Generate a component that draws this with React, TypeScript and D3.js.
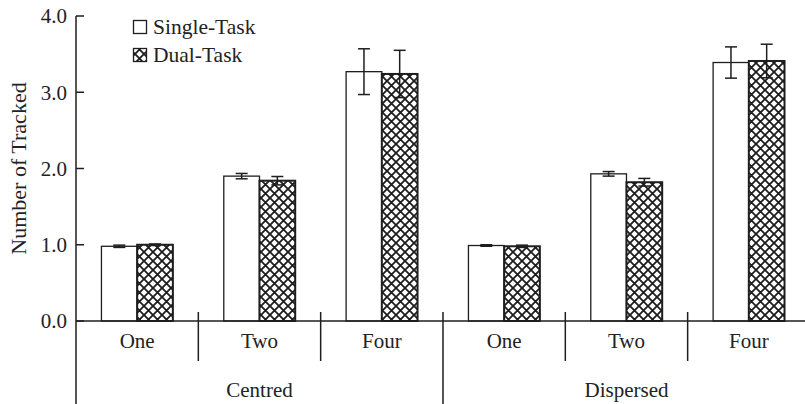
import React from "react";
import * as d3 from "d3";

const groups = ["Centred", "Dispersed"];
const categories = ["One", "Two", "Four"];
const seriesNames = ["Single-Task", "Dual-Task"];
// values per group, per category: [single, dual]
const singleValues = [0.98, 1.9, 3.27, 0.99, 1.93, 3.39];
const singleErrors = [0.015, 0.035, 0.3, 0.01, 0.03, 0.205];
const dualValues = [1.0, 1.84, 3.24, 0.98, 1.82, 3.41];
const dualErrors = [0.01, 0.055, 0.31, 0.015, 0.05, 0.22];
const yTicks = [0, 1, 2, 3, 4];

const W = 805;
const H = 404;
const left = 76;
const slotW = 122.33;
const right = left + slotW * 6;
const yTop = 16;
const yBase = 321;
const FONT = "'Liberation Serif', 'Times New Roman', serif";
const INK = "#1e1e1e";

export default function App() {
  const y = d3.scaleLinear().domain([0, 4]).range([yBase, yTop]);
  const gx = d3.scaleBand<string>().domain(groups).range([left, right]);
  const cx = d3.scaleBand<string>().domain(categories).range([0, gx.bandwidth()]);
  const sx = d3
    .scaleBand<string>()
    .domain(seriesNames)
    .range([0, cx.bandwidth()])
    .paddingInner(0)
    .paddingOuter(0.713);

  const slots: { g: string; c: string; i: number }[] = [];
  groups.forEach((g, gi) =>
    categories.forEach((c, ci) => slots.push({ g, c, i: gi * 3 + ci }))
  );

  const capW = 12;

  return (
    <svg
      width={W}
      height={H}
      style={{ position: "absolute", left: 0, top: 0, background: "#fff" }}
      fontFamily={FONT}
    >
      <defs>
        <pattern id="hatch" patternUnits="userSpaceOnUse" width="9" height="9">
          <rect width="9" height="9" fill="#fff" />
          <path d="M-1,-1 L10,10 M-1,10 L10,-1 M-5.5,3.5 L5.5,14.5 M3.5,-5.5 L14.5,5.5 M3.5,14.5 L14.5,3.5 M-5.5,5.5 L5.5,-5.5" stroke={INK} strokeWidth={1.8} />
        </pattern>
      </defs>

      {/* bars */}
      {slots.map((s) => {
        const x0 = (gx(s.g) as number) + (cx(s.c) as number);
        const bw = sx.bandwidth();
        const xs = x0 + (sx(seriesNames[0]) as number);
        const xd = x0 + (sx(seriesNames[1]) as number);
        const vs = singleValues[s.i];
        const vd = dualValues[s.i];
        const es = singleErrors[s.i];
        const ed = dualErrors[s.i];
        return (
          <g key={s.i}>
            <rect x={xs} y={y(vs)} width={bw} height={yBase - y(vs)} fill="#fff" stroke={INK} strokeWidth={1.3} />
            <rect x={xd} y={y(vd)} width={bw} height={yBase - y(vd)} fill="url(#hatch)" stroke={INK} strokeWidth={2} />
            {[
              [xs + bw / 2, vs, es],
              [xd + bw / 2, vd, ed],
            ].map(([cxp, v, e], k) => (
              <g key={k} stroke={INK} strokeWidth={1.5}>
                <line x1={cxp} x2={cxp} y1={y(v + e)} y2={y(v - e)} />
                <line x1={cxp - capW / 2} x2={cxp + capW / 2} y1={y(v + e)} y2={y(v + e)} />
                <line x1={cxp - capW / 2} x2={cxp + capW / 2} y1={y(v - e)} y2={y(v - e)} />
              </g>
            ))}
          </g>
        );
      })}

      {/* y axis */}
      <line x1={left} x2={left} y1={yTop} y2={H} stroke={INK} strokeWidth={1.5} />
      {yTicks.map((t) => (
        <g key={t}>
          <line x1={left} x2={left + 8} y1={y(t)} y2={y(t)} stroke={INK} strokeWidth={1.5} />
          <text x={left - 9} y={y(t)} dy="0.35em" textAnchor="end" fontSize={21} fill="#222">
            {t.toFixed(1)}
          </text>
        </g>
      ))}
      <text
        transform={`translate(26, ${(73 + 264) / 2}) rotate(-90)`}
        textAnchor="middle"
        fontSize={22}
        fill="#222"
      >
        Number of Tracked
      </text>

      {/* baseline */}
      <line x1={left} x2={W} y1={yBase} y2={yBase} stroke={INK} strokeWidth={1.5} />

      {/* category separators and labels */}
      {slots.map((s) => {
        const x0 = (gx(s.g) as number) + (cx(s.c) as number);
        const isGroupStart = categories.indexOf(s.c) === 0;
        return (
          <g key={"c" + s.i}>
            {!isGroupStart && (
              <line x1={x0} x2={x0} y1={312} y2={361} stroke={INK} strokeWidth={1.5} />
            )}
            {isGroupStart && s.i > 0 && (
              <line x1={x0} x2={x0} y1={312} y2={H} stroke={INK} strokeWidth={1.5} />
            )}
            <text x={x0 + cx.bandwidth() / 2} y={348} textAnchor="middle" fontSize={21} fill="#222">
              {s.c}
            </text>
          </g>
        );
      })}
      {groups.map((g) => (
        <text key={g} x={(gx(g) as number) + gx.bandwidth() / 2} y={397} textAnchor="middle" fontSize={21} fill="#222">
          {g}
        </text>
      ))}

      {/* legend */}
      <rect x={133.5} y={20.5} width={13} height={13} fill="#fff" stroke={INK} strokeWidth={1.3} />
      <text x={153} y={34} fontSize={21.5} fill="#222">{seriesNames[0]}</text>
      <rect x={133.5} y={48.5} width={13} height={13} fill="url(#hatch)" stroke={INK} strokeWidth={1.3} />
      <text x={153} y={62} fontSize={21.5} fill="#222">{seriesNames[1]}</text>
    </svg>
  );
}
